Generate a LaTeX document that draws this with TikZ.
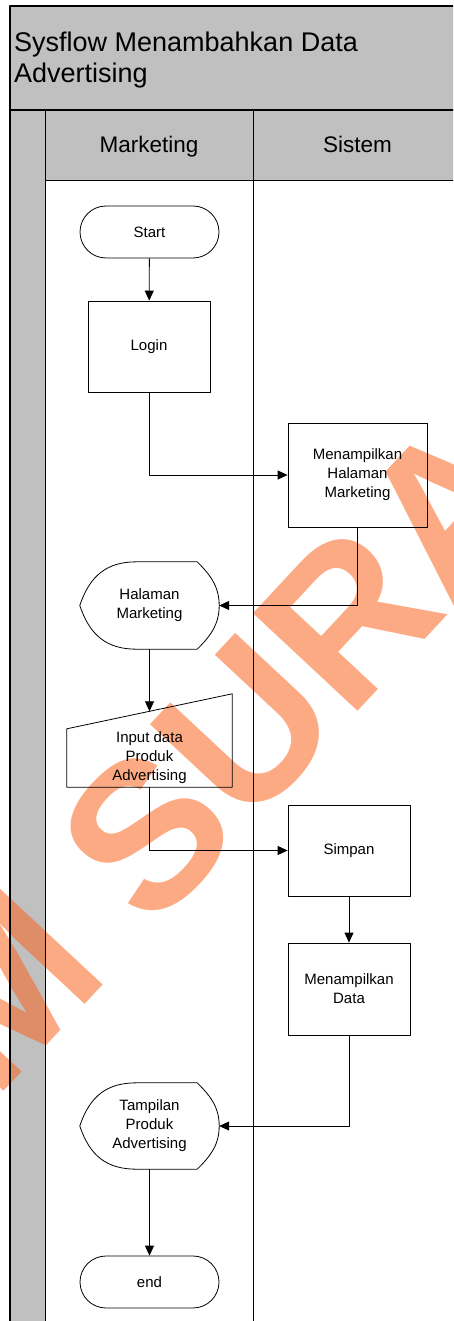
\documentclass[tikz,border=0pt]{standalone}
\usepackage{fontspec}
\setmainfont{Liberation Sans}
\usetikzlibrary{arrows.meta,calc}
\definecolor{lanegray}{RGB}{192,192,192}
\definecolor{wmorange}{RGB}{250,100,30}
\tikzset{
 frame/.style={line width=1.2pt},
 proc/.style={draw, line width=0.8pt, align=center, minimum width=122pt, minimum height=91pt},
 term/.style={draw, line width=0.8pt, rounded corners=26pt, minimum width=139pt, minimum height=52pt},
 disp/.style={align=center, inner sep=0pt, minimum width=139pt, minimum height=87pt},
 manin/.style={align=center, inner sep=0pt, minimum width=165pt, minimum height=58pt},
}
% display shape drawn round a borderless node
\newcommand{\dispshape}[1]{%
 \draw[line width=0.8pt] (#1.west) .. controls +(10,-30) and +(-30,0) .. ([xshift=57pt]#1.north west)
 -- ([xshift=-22pt]#1.north east) .. controls +(12,12) and +(0,-20) .. (#1.east)
 .. controls +(0,20) and +(12,-12) .. ([xshift=-22pt]#1.south east)
 -- ([xshift=57pt]#1.south west) .. controls +(-30,0) and +(10,30) .. (#1.west) -- cycle;}
\begin{document}
\begin{tikzpicture}[x=1pt, y=-1pt, font=\fontsize{15}{19}\selectfont, >={Triangle[length=10pt,width=9pt]}, line join=round]
 \useasboundingbox (0,0) rectangle (453,1321);
 \clip (0,0) rectangle (453,1321);
 % swimlanes
 \fill[lanegray] (10,6) rectangle (461,180);
 \fill[lanegray] (10,110) rectangle (45,1330);
 % watermark
 \node[rotate=47, anchor=base west, inner sep=0pt, text=wmorange, text opacity=0.55, font=\bfseries\fontsize{208}{208}\selectfont] (wm) at (-6,1102) {M SURA};
 \draw[frame] (10,1330) -- (10,6) -- (461,6) -- (461,1330);
 \draw[frame] (10,110) -- (461,110);
 \draw[line width=0.8pt] (45,180) -- (461,180);
 \draw[line width=0.8pt] (45,110) -- (45,1330);
 \draw[line width=0.8pt] (253,110) -- (253,1330);
 \node[anchor=north west, align=left, inner sep=0pt, font=\fontsize{27}{31}\selectfont] (title) at (14,32) {Sysflow Menambahkan Data\\Advertising};
 \node[anchor=base, font=\fontsize{22.5}{26}\selectfont] (mkt) at (149,153) {Marketing};
 \node[anchor=base, font=\fontsize{22.5}{26}\selectfont] (sis) at (357.5,153) {Sistem};
 % steps
 \node[term] (start) at (149.5,232) {Start};
 \node[proc] (login) at (149,346.5) {Login};
 \node[proc, minimum width=139pt, minimum height=104pt] (mhm) at (357.5,475) {Menampilkan\\Halaman\\Marketing};
 \node[disp] (hm) at (149.5,605.5) {Halaman\\Marketing};
 \dispshape{hm}
 \node[manin] (ip) at (149.5,758) {Input data\\Produk\\Advertising};
 \draw[line width=0.8pt] (ip.south west) -- (ip.north west) -- ([yshift=35pt]ip.north east) -- (ip.south east) -- cycle;
 \coordinate (iptop) at ($(ip.north west)!0.5!([yshift=35pt]ip.north east)$);
 \node[proc] (simpan) at (349,850.5) {Simpan};
 \node[proc, minimum height=92pt] (md) at (349,989) {Menampilkan\\Data};
 \node[disp, minimum height=86pt] (tpa) at (149.5,1126) {Tampilan\\Produk\\Advertising};
 \dispshape{tpa}
 \node[term] (end) at (149.5,1282) {end};
 % flow
 \draw[->, line width=0.8pt] (start) -- (login);
 \draw[->, line width=0.8pt] (login.south) |- (mhm.west);
 \draw[->, line width=0.8pt] (mhm.south) |- (hm.east);
 \draw[->, line width=0.8pt] (hm.south) -- (iptop);
 \draw[->, line width=0.8pt] (ip.south) |- (simpan.west);
 \draw[->, line width=0.8pt] (simpan) -- (md);
 \draw[->, line width=0.8pt] (md.south) |- (tpa.east);
 \draw[->, line width=0.8pt] (tpa) -- (end);
\end{tikzpicture}
\end{document}
